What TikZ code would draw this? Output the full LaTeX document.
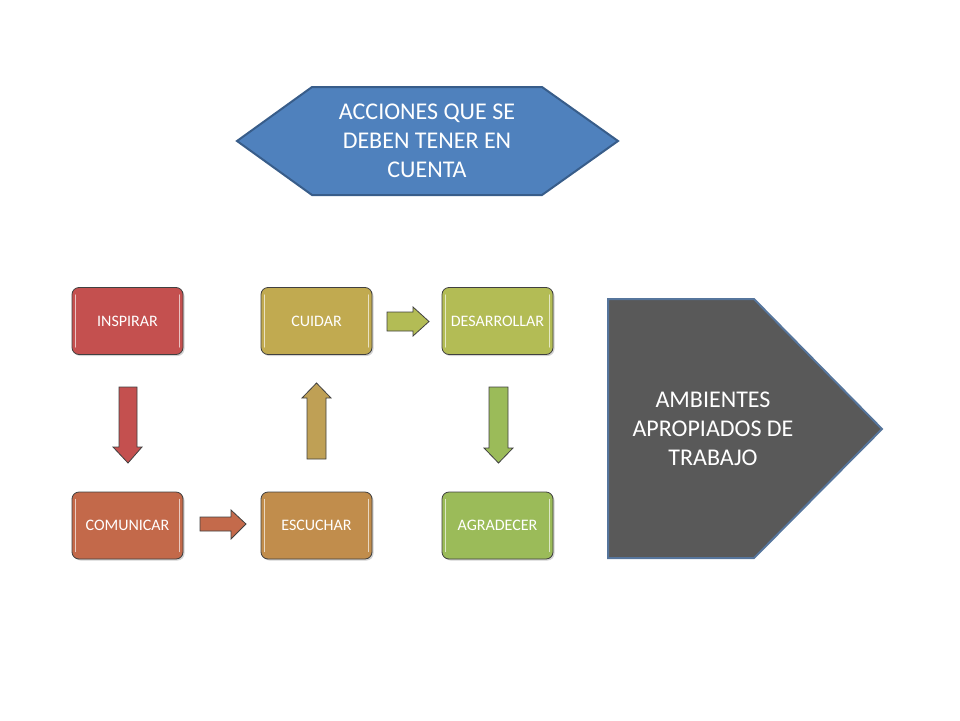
\documentclass[tikz,border=0pt]{standalone}
\usepackage{fontspec}
\setmainfont{Carlito}
\usetikzlibrary{shadows}
\definecolor{cInsp}{HTML}{C4504F}
\definecolor{cComu}{HTML}{C3694A}
\definecolor{cEscu}{HTML}{C18D4C}
\definecolor{cCuid}{HTML}{C1AA50}
\definecolor{cDesa}{HTML}{B3BC55}
\definecolor{cAgra}{HTML}{9BBB59}
\definecolor{cHex}{HTML}{4F81BD}
\definecolor{cHexLine}{HTML}{385D8A}
\definecolor{cPent}{HTML}{595959}
\definecolor{cArrUp}{HTML}{BFA055}
\definecolor{cArrR}{HTML}{C46A4B}
\begin{document}
\begin{tikzpicture}[x=1pt,y=-1pt]
\useasboundingbox (0,0) rectangle (960,720);
\tikzset{
 box/.style={draw=black!75, line width=0.8pt, rounded corners=7pt,
   minimum width=111pt, minimum height=67pt, inner sep=0pt, text=white,
   font=\fontsize{16}{19}\selectfont, fill=#1,
   drop shadow={shadow xshift=1.5pt, shadow yshift=-1.5pt, opacity=0.35}},
 blockarrow/.style={draw=black!75, line width=0.8pt, fill=#1},
 shine/.style={draw=white!65!#1, line width=1.6pt, line cap=round},
 bigtext/.style={text=white, align=center, font=\fontsize{24}{29}\selectfont}
}
% boxes
\node[box=cInsp] (insp) at (127.5,321) {INSPIRAR};
\node[box=cCuid] (cuid) at (316.5,321) {CUIDAR};
\node[box=cDesa] (desa) at (497.5,321) {DESARROLLAR};
\node[box=cComu] (comu) at (127.5,525.5) {COMUNICAR};
\node[box=cEscu] (escu) at (316.5,525.5) {ESCUCHAR};
\node[box=cAgra] (agra) at (497.5,525.5) {AGRADECER};
\foreach \n/\c in {insp/cInsp,cuid/cCuid,desa/cDesa,comu/cComu,escu/cEscu,agra/cAgra}{
  \draw[shine=\c] ([xshift=4pt,yshift=-8pt]\n.north west) -- ([xshift=4pt,yshift=8pt]\n.south west);
  \draw[shine=\c] ([xshift=-4pt,yshift=-8pt]\n.north east) -- ([xshift=-4pt,yshift=8pt]\n.south east);
}
% block arrows
\draw[blockarrow=cInsp] (119,387) -- (137,387) -- (137,447) -- (142,447) -- (128,463) -- (113,447) -- (119,447) -- cycle;
\draw[blockarrow=cArrUp] (307,459) -- (326,459) -- (326,398) -- (331,398) -- (316.5,383) -- (302,398) -- (307,398) -- cycle;
\draw[blockarrow=cArrR] (200,517) -- (231,517) -- (231,510) -- (246,524) -- (231,539) -- (231,531) -- (200,531) -- cycle;
\draw[blockarrow=cDesa] (387,312) -- (413,312) -- (413,307) -- (429,321.5) -- (413,336) -- (413,331) -- (387,331) -- cycle;
\draw[blockarrow=cAgra] (489,387) -- (508,387) -- (508,448) -- (513,448) -- (498.5,463) -- (484,448) -- (489,448) -- cycle;
% hexagon
\draw[fill=cHex, draw=cHexLine, line width=2pt] (237,141) -- (312,87) -- (542,87) -- (618,141) -- (542,195) -- (312,195) -- cycle;
\node[bigtext] (hex) at (427,141) {ACCIONES QUE SE\\DEBEN TENER EN\\CUENTA};
% pentagon
\draw[fill=cPent, draw=cHexLine!85!white, line width=2pt] (608,299) -- (754,299) -- (882,429) -- (754,558) -- (608,558) -- cycle;
\node[bigtext] (pent) at (713,429) {AMBIENTES\\APROPIADOS DE\\TRABAJO};
\end{tikzpicture}
\end{document}
